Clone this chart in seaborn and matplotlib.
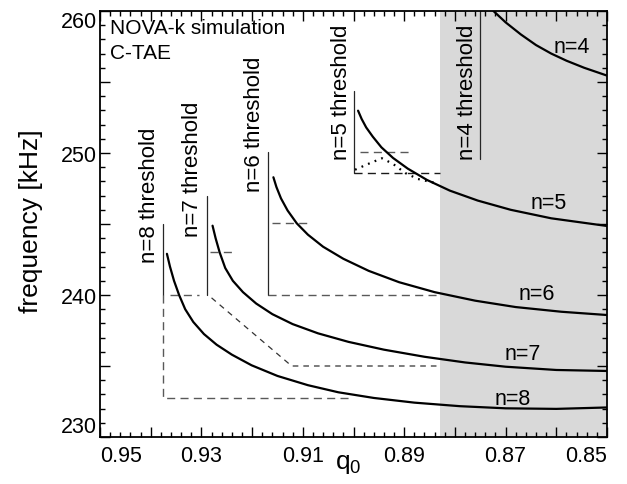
import numpy as np
import pandas as pd
import matplotlib
matplotlib.use("Agg")
import matplotlib.pyplot as plt
import seaborn as sns
from matplotlib.ticker import MultipleLocator, FuncFormatter

# ---------------- data ----------------
q_n4 = [0.8724, 0.8700, 0.8670, 0.8640, 0.8610, 0.8580, 0.8545, 0.8500]
f_n4 = [260.00, 259.20, 258.35, 257.60, 257.00, 256.50, 256.00, 255.45]

q_n5 = [0.8991, 0.8984, 0.8975, 0.8962, 0.8945, 0.8922, 0.8893, 0.8855, 0.8810, 0.8755, 0.8690, 0.8610, 0.8500]
f_n5 = [252.98, 252.40, 251.80, 251.15, 250.40, 249.65, 248.90, 248.10, 247.35, 246.65, 246.00, 245.40, 244.86]

q_n6 = [0.9158, 0.9152, 0.9143, 0.9130, 0.9112, 0.9090, 0.9060, 0.9020, 0.8970, 0.8910, 0.8840, 0.8760, 0.8680, 0.8590, 0.8500]
f_n6 = [248.29, 247.60, 246.80, 245.95, 245.05, 244.25, 243.40, 242.55, 241.70, 240.90, 240.20, 239.60, 239.15, 238.82, 238.59]

q_n7 = [0.9278, 0.9272, 0.9264, 0.9253, 0.9238, 0.9218, 0.9192, 0.9160, 0.9120, 0.9070, 0.9010, 0.8940, 0.8860, 0.8780, 0.8700, 0.8600, 0.8500]
f_n7 = [244.88, 244.00, 243.00, 241.90, 241.00, 240.20, 239.40, 238.65, 237.95, 237.30, 236.70, 236.15, 235.65, 235.25, 234.95, 234.72, 234.65]

q_n8 = [0.9368, 0.9362, 0.9354, 0.9344, 0.9332, 0.9316, 0.9295, 0.9270, 0.9240, 0.9201, 0.9150, 0.9090, 0.9030, 0.8960, 0.8880, 0.8790, 0.8700, 0.8600, 0.8500]
f_n8 = [242.90, 242.00, 241.00, 240.00, 239.00, 238.10, 237.25, 236.50, 235.80, 235.05, 234.30, 233.65, 233.15, 232.75, 232.42, 232.17, 232.02, 231.98, 232.08]

# dotted n=5 branch
q_dot = [0.8997, 0.8971, 0.8944, 0.8922, 0.8898, 0.8873, 0.8839]
f_dot = [248.82, 249.23, 249.63, 249.23, 248.59, 248.17, 247.89]

# thresholds (solid vertical markers)
thr_names = ["n=8 threshold", "n=7 threshold", "n=6 threshold", "n=5 threshold", "n=4 threshold"]
thr_q = [0.9376, 0.9288, 0.9168, 0.9000, 0.8750]
thr_top = [245.0, 247.0, 250.1, 254.4, 260.0]
thr_bot = [240.0, 240.0, 240.0, 248.6, 249.6]
thr_text_q = [0.9382, 0.9297, 0.9175, 0.9003, 0.8754]
thr_text_f = [242.3, 244.15, 247.3, 249.6, 249.6]

# short dashed frequency marks at threshold
mark_f = [240.0, 243.05, 245.05, 250.1]
mark_q0 = [0.9362, 0.9283, 0.9161, 0.8987]
mark_q1 = [0.9305, 0.9240, 0.9092, 0.8885]

# long dashed paths
path8_q = [0.9376, 0.9376, 0.9001]
path8_f = [240.0, 232.73, 232.73]
path7_q = [0.9280, 0.9122, 0.8829]
path7_f = [239.8, 235.0, 235.0]
path6_q = [0.9168, 0.8829]
path6_f = [240.0, 240.0]
path5_q = [0.9000, 0.8829]
path5_f = [248.57, 248.57]

curve_labels = ["n=4", "n=5", "n=6", "n=7", "n=8"]
label_q = [0.8569, 0.8616, 0.8638, 0.8666, 0.8687]
label_f = [257.5, 246.5, 240.1, 235.9, 232.7]

shade_from = 0.8829

# ---------------- plotting ----------------
sns.set_theme(style="ticks")
plt.rcParams["font.family"] = ["Liberation Sans", "DejaVu Sans"]
plt.rcParams["mathtext.fontset"] = "custom"
plt.rcParams["mathtext.rm"] = "Liberation Sans"
plt.rcParams["text.color"] = "black"
plt.rcParams["axes.labelcolor"] = "black"
plt.rcParams["xtick.color"] = "black"
plt.rcParams["ytick.color"] = "black"

fig = plt.figure(figsize=(6.27, 4.85), dpi=100)
ax = fig.add_axes([0.1595, 0.0969, 0.8086, 0.8784])

ax.axvspan(shade_from, 0.85, color="#d9d9d9", lw=0, zorder=0)

frames = []
for name, q, f in [("n=4", q_n4, f_n4), ("n=5", q_n5, f_n5), ("n=6", q_n6, f_n6),
                   ("n=7", q_n7, f_n7), ("n=8", q_n8, f_n8)]:
    frames.append(pd.DataFrame({"q0": q, "freq": f, "mode": name}))
df = pd.concat(frames, ignore_index=True)

sns.lineplot(data=df, x="q0", y="freq", units="mode", estimator=None, sort=False,
             color="black", lw=1.6, ax=ax, zorder=3)

sns.lineplot(x=q_dot, y=f_dot, sort=False, estimator=None, color="black", lw=1.6,
             linestyle=(0, (0.8, 2.4)), ax=ax, zorder=3)

dash = (0, (5.8, 3.8))
for q, t, b in zip(thr_q, thr_top, thr_bot):
    ax.plot([q, q], [t, b], color="0.15", lw=0.9, zorder=2)
for f, a, b in zip(mark_f, mark_q0, mark_q1):
    ax.plot([a, b], [f, f], color="0.35", lw=1.0, linestyle=dash, zorder=2)
ax.plot(path8_q, path8_f, color="0.35", lw=1.0, linestyle=dash, zorder=2)
ax.plot(path7_q, path7_f, color="0.2", lw=0.9, linestyle=(0, (4.5, 4.0)), zorder=2)
ax.plot(path6_q, path6_f, color="0.35", lw=1.0, linestyle=dash, zorder=2)
ax.plot(path5_q, path5_f, color="0.1", lw=1.0, linestyle=dash, zorder=2)

for name, q, f in zip(thr_names, thr_text_q, thr_text_f):
    ax.text(q, f, name, rotation=90, ha="right", va="bottom", fontsize=16, color="black")

for name, q, f in zip(curve_labels, label_q, label_f):
    ax.text(q, f, name, ha="center", va="center", fontsize=15.5, color="black")

ax.text(0.948, 259.5, "NOVA-k simulation", ha="left", va="top", fontsize=15, color="black")
ax.text(0.948, 257.75, "C-TAE", ha="left", va="top", fontsize=15, color="black")

ax.set_xlim(0.95, 0.85)
ax.set_ylim(230, 260)

ax.xaxis.set_major_locator(MultipleLocator(0.01))
ax.xaxis.set_minor_locator(MultipleLocator(0.002))
ax.xaxis.set_major_formatter(FuncFormatter(lambda v, p: f"{v:.2f}" if int(round(v * 100)) % 2 == 1 else ""))
ax.yaxis.set_major_locator(MultipleLocator(5))
ax.yaxis.set_minor_locator(MultipleLocator(1))
ax.yaxis.set_major_formatter(FuncFormatter(lambda v, p: f"{v:.0f}" if int(round(v)) % 10 == 0 else ""))

ax.tick_params(which="both", direction="in", top=True, right=True, colors="black",
               labelsize=15.5)
ax.tick_params(which="major", length=7, width=1.0)
ax.tick_params(which="minor", length=3.6, width=1.0)
ax.tick_params(axis="x", pad=6)
ax.tick_params(axis="y", pad=2)

for s in ax.spines.values():
    s.set_linewidth(1.3)
    s.set_color("black")

ax.set_xlabel(r"q$_\mathregular{0}$", fontsize=19)
ax.xaxis.set_label_coords(0.49, -0.033)
ax.set_ylabel("frequency [kHz]", fontsize=19)
ax.yaxis.set_label_coords(-0.112, 0.508)

fig.canvas.draw()
for lbl in ax.get_xticklabels():
    if lbl.get_text() == "0.95":
        lbl.set_ha("left")
    elif lbl.get_text() == "0.85":
        lbl.set_ha("right")
for lbl in ax.get_yticklabels():
    if lbl.get_text() == "260":
        lbl.set_va("top")
    elif lbl.get_text() == "230":
        lbl.set_va("bottom")

fig.savefig("out.png", dpi=100)
